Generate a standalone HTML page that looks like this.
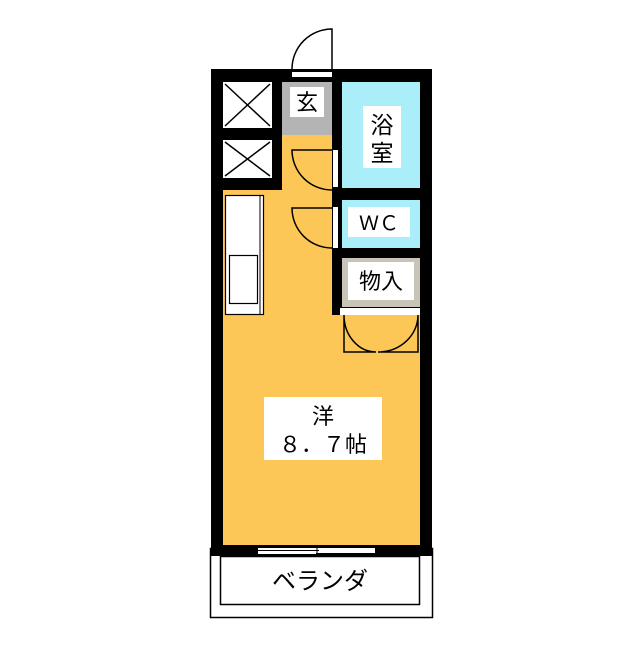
<!DOCTYPE html>
<html><head><meta charset="utf-8"><style>
body{margin:0;background:#fff}
svg text{font-family:"Liberation Sans","Noto Sans CJK JP",sans-serif;fill:#000}
</style></head><body>
<svg width="640" height="640" viewBox="0 0 640 640" xmlns="http://www.w3.org/2000/svg">
<!-- balcony -->
<rect x="210.5" y="548.5" width="222" height="69" fill="#fff" stroke="#000" stroke-width="1.5"/>
<rect x="220.5" y="556.5" width="199" height="48" fill="#fff" stroke="#000" stroke-width="1.5"/>
<text x="320" y="589" font-size="24" text-anchor="middle">ベランダ</text>
<!-- outer walls -->
<rect x="211" y="69" width="221" height="487" fill="#000"/>
<!-- main room -->
<rect x="223" y="82" width="197" height="463" fill="#fdc757"/>
<!-- closets block -->
<rect x="223" y="82" width="59" height="108" fill="#000"/>
<rect x="223" y="82" width="49" height="46" fill="#fff"/>
<rect x="223" y="140" width="49" height="38" fill="#fff"/>
<g stroke="#000" stroke-width="1.5">
<line x1="225" y1="84" x2="270" y2="126"/><line x1="270" y1="84" x2="225" y2="126"/>
<line x1="225" y1="142" x2="270" y2="176"/><line x1="270" y1="142" x2="225" y2="176"/>
</g>
<!-- genkan -->
<rect x="282" y="82" width="50" height="53" fill="#b4b4b4"/>
<rect x="290" y="87" width="34" height="30" fill="#fff"/>
<text x="307" y="110" font-size="22" text-anchor="middle">玄</text>
<!-- entry door -->
<rect x="292" y="72" width="40" height="5" fill="#fff"/>
<path d="M292 69 A40 40 0 0 1 332 29 L332 69" fill="none" stroke="#000" stroke-width="1.5"/>
<!-- right column block walls -->
<rect x="332" y="82" width="88" height="233" fill="#000"/>
<!-- bath -->
<rect x="342" y="82" width="78" height="106" fill="#aaeefa"/>
<rect x="363" y="106" width="38" height="62" fill="#fff"/>
<text x="382" y="133" font-size="23" text-anchor="middle">浴</text>
<text x="382" y="161" font-size="23" text-anchor="middle">室</text>
<!-- WC -->
<rect x="342" y="200" width="78" height="48" fill="#aaeefa"/>
<rect x="348" y="207" width="62" height="30" fill="#fff"/>
<text x="379" y="230" font-size="20" text-anchor="middle">ＷＣ</text>
<!-- storage -->
<rect x="342" y="258" width="78" height="49" fill="#c8c4b8"/>
<rect x="348" y="262" width="66" height="38" fill="#fff"/>
<text x="381" y="289" font-size="22" text-anchor="middle">物入</text>
<rect x="340" y="308" width="80" height="7" fill="#fff"/>
<!-- door openings -->
<rect x="333" y="150" width="5" height="37" fill="#fff"/>
<rect x="333" y="207" width="5" height="41" fill="#fff"/>
<g fill="none" stroke="#000" stroke-width="1.5">
<path d="M332 150 L292 150 A40 40 0 0 0 332 190"/>
<path d="M332 208 L292 208 A40 40 0 0 0 332 248"/>
<path d="M344 315 L344 352 L376 352 M344 315 A32 37 0 0 0 376 352"/>
<path d="M418 315 L418 352 L378 352 M418 315 A40 37 0 0 1 378 352"/>
</g>
<!-- kitchen -->
<rect x="225.5" y="195.5" width="38" height="119" fill="#fff" stroke="#000" stroke-width="1.2"/>
<line x1="260" y1="196" x2="260" y2="314" stroke="#000" stroke-width="1"/>
<rect x="229.5" y="255.5" width="28" height="48" fill="#fff" stroke="#000" stroke-width="1.2"/>
<!-- room label -->
<rect x="264" y="397" width="118" height="63" fill="#fff"/>
<text x="323" y="424" font-size="22" text-anchor="middle">洋</text>
<text x="323" y="452" font-size="22" text-anchor="middle">８．７帖</text>
<!-- window -->
<rect x="258" y="548" width="117" height="6" fill="#fff"/>
<g stroke="#000" stroke-width="1">
<line x1="258" y1="550.5" x2="319" y2="550.5"/><line x1="316" y1="553.5" x2="375" y2="553.5"/>
<line x1="317" y1="547" x2="317" y2="556"/>
</g>
</svg>
</body></html>
